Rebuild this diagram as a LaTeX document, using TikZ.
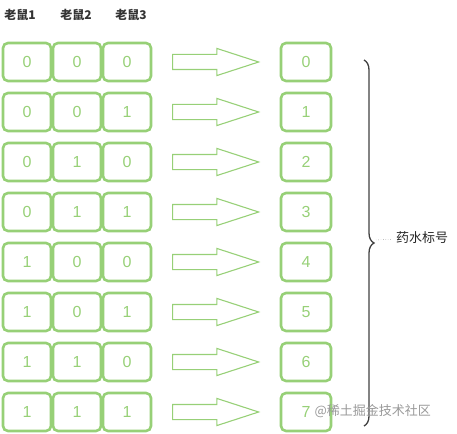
\documentclass[tikz,border=0pt]{standalone}
\usepackage{fontspec}
\setmainfont{Liberation Sans}
\newfontfamily\cjk{Noto Sans CJK SC}
\usetikzlibrary{shapes.arrows,decorations.pathreplacing}
\definecolor{bitgreen}{HTML}{97D077}

\begin{document}
\begin{tikzpicture}[x=1pt, y=-1pt, node distance=50pt, auto,
  bit/.style={draw=bitgreen, text=bitgreen, line width=2.6pt, rounded corners=5pt,
    minimum width=48pt, minimum height=38pt, font=\fontsize{16}{16}\selectfont},
  res/.style={bit, minimum width=50pt},
  fat/.style={single arrow, draw=bitgreen, line width=1.1pt, inner sep=0pt, inner ysep=7pt,
    single arrow head extend=6pt, single arrow tip angle=36, minimum height=86pt},
  head/.style={font=\cjk\bfseries\fontsize{12}{12}\selectfont, text=black!80}]
\useasboundingbox (0,0) rectangle (457,433);
\node  (h1)[head] at (20,15) {老鼠1};
\node  (h2)[head] at (76,15) {老鼠2};
\node  (h3)[head] at (131,15) {老鼠3};
% row 0
\node  (a0)[bit] at (27,62) {0};
\node  (b0)[bit] [right of = a0] {0};
\node  (c0)[bit] [right of = b0] {0};
\node  (p0)[fat] [right of = c0, node distance=77pt] {};
\node  (n0)[res] [right of = p0, node distance=102pt] {0};
% row 1
\node  (a1)[bit] [below of = a0] {0};
\node  (b1)[bit] [right of = a1] {0};
\node  (c1)[bit] [right of = b1] {1};
\node  (p1)[fat] [right of = c1, node distance=77pt] {};
\node  (n1)[res] [right of = p1, node distance=102pt] {1};
% row 2
\node  (a2)[bit] [below of = a1] {0};
\node  (b2)[bit] [right of = a2] {1};
\node  (c2)[bit] [right of = b2] {0};
\node  (p2)[fat] [right of = c2, node distance=77pt] {};
\node  (n2)[res] [right of = p2, node distance=102pt] {2};
% row 3
\node  (a3)[bit] [below of = a2] {0};
\node  (b3)[bit] [right of = a3] {1};
\node  (c3)[bit] [right of = b3] {1};
\node  (p3)[fat] [right of = c3, node distance=77pt] {};
\node  (n3)[res] [right of = p3, node distance=102pt] {3};
% row 4
\node  (a4)[bit] [below of = a3] {1};
\node  (b4)[bit] [right of = a4] {0};
\node  (c4)[bit] [right of = b4] {0};
\node  (p4)[fat] [right of = c4, node distance=77pt] {};
\node  (n4)[res] [right of = p4, node distance=102pt] {4};
% row 5
\node  (a5)[bit] [below of = a4] {1};
\node  (b5)[bit] [right of = a5] {0};
\node  (c5)[bit] [right of = b5] {1};
\node  (p5)[fat] [right of = c5, node distance=77pt] {};
\node  (n5)[res] [right of = p5, node distance=102pt] {5};
% row 6
\node  (a6)[bit] [below of = a5] {1};
\node  (b6)[bit] [right of = a6] {1};
\node  (c6)[bit] [right of = b6] {0};
\node  (p6)[fat] [right of = c6, node distance=77pt] {};
\node  (n6)[res] [right of = p6, node distance=102pt] {6};
% row 7
\node  (a7)[bit] [below of = a6] {1};
\node  (b7)[bit] [right of = a7] {1};
\node  (c7)[bit] [right of = b7] {1};
\node  (p7)[fat] [right of = c7, node distance=77pt] {};
\node  (n7)[res] [right of = p7, node distance=102pt] {7};
% brace and label
\coordinate (top) at (364,60);
\coordinate (bot) at (364,426);
\coordinate (tip) at (376,240);
\draw[decorate, decoration={brace, amplitude=10pt}, line width=1.3pt, color=black!75] (top) -- (bot);
\node  (lab)[font=\cjk\fontsize{13}{13}\selectfont, text=black!85] at (422,238) {药水标号};
\draw[dotted, color=black!60] (tip) -- (lab);
\node  (wm)[font=\cjk\fontsize{13}{13}\selectfont, text=black!40, anchor=west] at (311,411) {@稀土掘金技术社区};
\end{tikzpicture}
\end{document}
